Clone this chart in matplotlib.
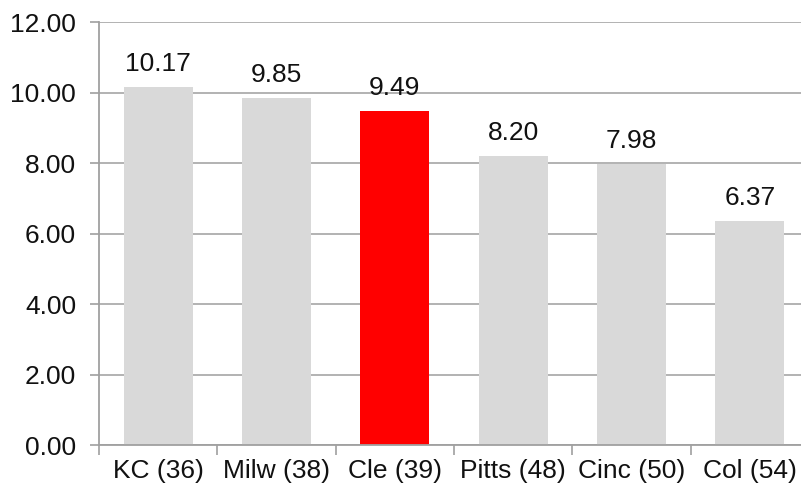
import numpy as np
import matplotlib.pyplot as plt

plt.rcParams['font.family'] = ['Liberation Sans', 'DejaVu Sans']

cities = ['KC (36)', 'Milw (38)', 'Cle (39)', 'Pitts (48)', 'Cinc (50)', 'Col (54)']
values = [10.17, 9.85, 9.49, 8.20, 7.98, 6.37]
bar_colors = ['#d9d9d9', '#d9d9d9', '#ff0000', '#d9d9d9', '#d9d9d9', '#d9d9d9']
yticks = [0, 2, 4, 6, 8, 10, 12]

fig = plt.figure(figsize=(8.01, 4.90), dpi=100)
# axes run a little past the right edge of the figure
ax = fig.add_axes([99 / 801, 45 / 490, 710 / 801, 422.7 / 490])

x = np.arange(len(cities))
bars = ax.bar(x, values, width=0.585, color=bar_colors, zorder=2)

for xi, v in zip(x, values):
    ax.annotate('%.2f' % v, (xi, v), xytext=(0, 8), textcoords='offset points',
                ha='center', va='bottom', fontsize=19, color='#111111')

ax.set_xlim(-0.5, len(cities) - 0.5)
ax.set_ylim(0, 12)
ax.set_yticks(yticks)
ax.set_yticklabels(['%.2f' % t for t in yticks])
ax.set_xticks(x)
ax.set_xticklabels(cities)
ax.set_xticks(np.arange(len(cities) + 1) - 0.5, minor=True)

ax.grid(axis='y', color='#a6a6a6', linewidth=1.2, zorder=0)
ax.set_axisbelow(True)

for side in ['top', 'right']:
    ax.spines[side].set_visible(False)
for side in ['left', 'bottom']:
    ax.spines[side].set_color('#a0a0a0')
    ax.spines[side].set_linewidth(1.3)

ax.tick_params(axis='y', length=6.5, width=1.2, color='#a0a0a0', pad=10,
               labelsize=19, labelcolor='#111111')
ax.tick_params(axis='x', which='major', length=0, pad=10,
               labelsize=19, labelcolor='#111111')
ax.tick_params(axis='x', which='minor', length=7, width=1.2, color='#a0a0a0')

fig.savefig('out.png', dpi=100)
